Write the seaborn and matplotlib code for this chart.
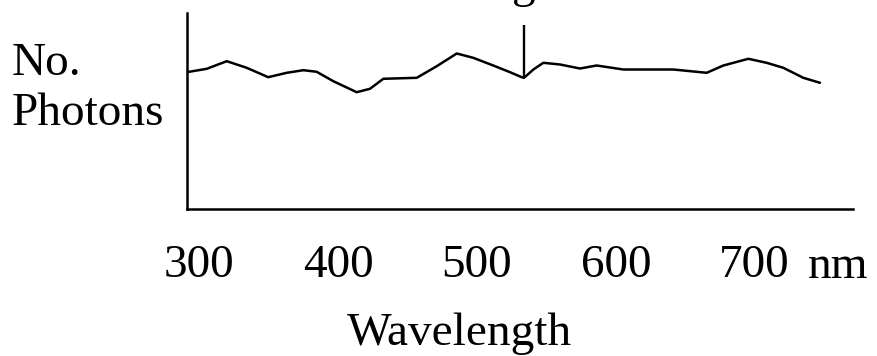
import matplotlib
matplotlib.use("Agg")
import matplotlib.pyplot as plt
import seaborn as sns

# Spectrum sketch: relative photon count against wavelength (nm)
wavelength = [290.9, 305.3, 319.7, 334.1, 349.6, 362.9, 374.9, 384.5, 396.5,
              413.3, 422.9, 432.5, 456.6, 471.0, 485.4, 497.3, 513.0, 523.8,
              532.2, 533.9, 540.6, 547.8, 559.8, 574.2, 586.2, 605.4, 641.4,
              665.5, 677.5, 695.5, 708.7, 720.7, 735.1, 747.1]
photons = [136.3, 139.7, 147.3, 140.7, 131.3, 135.7, 138.3, 136.7, 127.3,
           116.3, 119.7, 129.7, 130.7, 142.3, 155.0, 150.7, 142.3, 136.3,
           131.3, 130.7, 139.0, 145.7, 144.0, 140.0, 143.0, 139.0, 139.0,
           135.7, 143.0, 149.7, 145.7, 140.7, 130.7, 125.7]

# Sharp emission line
line_wavelength = 533.9
line_base = 130.7
line_top = 184.0

tick_values = [300, 400, 500, 600, 700]
tick_labels = ["300", "400", "500", "600", "700"]

sns.set_theme(style="white")
plt.rcParams["font.family"] = ["Liberation Serif", "DejaVu Serif"]
FS = 34

W, H = 878, 356
fig = plt.figure(figsize=(W / 100, H / 100), dpi=100)
fig.patch.set_facecolor("white")

x0, x1 = 186.7, 853.0
y_bottom, y_top = 208.5, 12.5
ax = fig.add_axes([x0 / W, (H - y_bottom) / H, (x1 - x0) / W, (y_bottom - y_top) / H])
ax.set_facecolor("white")

sns.lineplot(x=wavelength, y=photons, ax=ax, color="black", linewidth=1.8,
             solid_joinstyle="round", solid_capstyle="round")
ax.vlines(line_wavelength, line_base, line_top, color="black", linewidth=1.7)

ax.set_xlim(290.85, 770.9)
ax.set_ylim(0, y_bottom - y_top)

for side in ("top", "right"):
    ax.spines[side].set_visible(False)
for side in ("left", "bottom"):
    ax.spines[side].set_visible(True)
    ax.spines[side].set_color("black")
    ax.spines[side].set_linewidth(1.8)

ax.set_yticks([])
ax.set_xticks(tick_values, tick_labels)
ax.tick_params(axis="x", length=0, pad=26, labelsize=FS, labelcolor="black")
ax.set_xlabel("")
ax.set_ylabel("")

fig.text(838 / W, 1 - 278.3 / H, "nm", ha="center", va="baseline", fontsize=FS, color="black")
fig.text(459 / W, 1 - 345 / H, "Wavelength", ha="center", va="baseline", fontsize=FS, color="black")
fig.text(12 / W, 1 - 75 / H, "No.", ha="left", va="baseline", fontsize=FS, color="black")
fig.text(12 / W, 1 - 125 / H, "Photons", ha="left", va="baseline", fontsize=FS, color="black")
fig.text(522 / W, 1 + 3 / H, "Light", ha="center", va="baseline", fontsize=FS, color="black")

fig.savefig("out.png", dpi=100, facecolor="white")
